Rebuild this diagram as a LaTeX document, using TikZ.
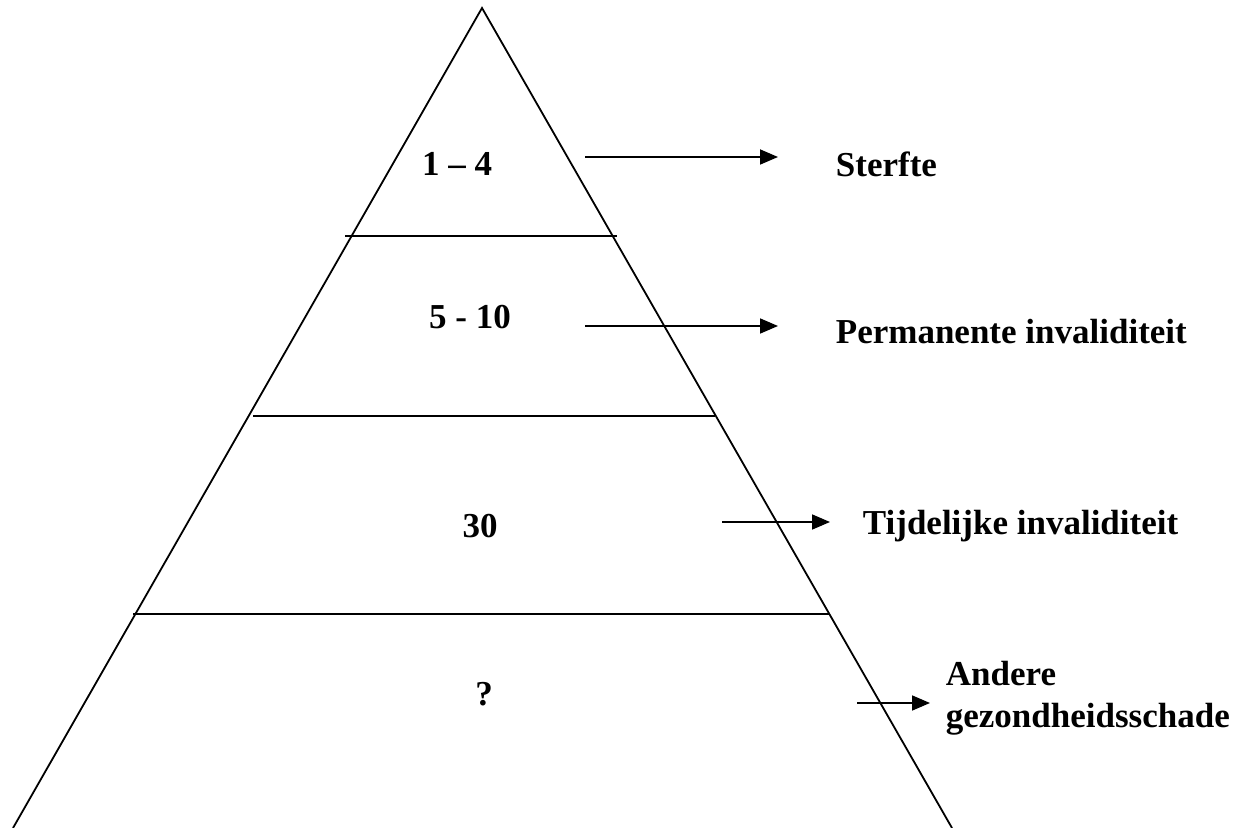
\documentclass[tikz,border=0pt]{standalone}
\usepackage{fontspec}
\setmainfont{Liberation Serif}
\usetikzlibrary{arrows.meta}

\tikzset{
        lbl/.style = {font=\fontsize{17.5}{21}\selectfont\bfseries, inner sep=0pt},
        num/.style = {lbl, anchor=center},
        pijl/.style = {-{Triangle[length=9pt, width=7.5pt]}, line width=0.9pt}
}

\begin{document}
\begin{tikzpicture}[x=0.5pt, y=-0.5pt, line width=0.9pt]
        \useasboundingbox (0,0) rectangle (1242,828);
        % piramide
        \coordinate (top) at (482,8);
        \coordinate (linksonder) at (13,828);
        \coordinate (rechtsonder) at (952,828);
        \draw (linksonder) -- (top) -- (rechtsonder);
        % lagen
        \coordinate (l1a) at (345,236); \coordinate (l1b) at (617,236);
        \coordinate (l2a) at (253,416); \coordinate (l2b) at (715,416);
        \coordinate (l3a) at (133,614); \coordinate (l3b) at (829,614);
        \draw (l1a) -- (l1b);
        \draw (l2a) -- (l2b);
        \draw (l3a) -- (l3b);
        % aantallen
        \node[num] (n1) at (457,164) {1 -- 4};
        \node[num] (n2) at (470,317) {5 - 10};
        \node[num] (n3) at (480,526) {30};
        \node[num] (n4) at (484,694) {?};
        % gevolgen
        \node[lbl, anchor=west] (sterfte) at (835,164) {Sterfte};
        \node[lbl, anchor=west] (perm) at (835,332) {Permanente invaliditeit};
        \node[lbl, anchor=west] (tijd) at (862,526) {Tijdelijke invaliditeit};
        \node[lbl, anchor=west, align=left] (ander) at (945,698) {Andere\\gezondheidsschade};
        % pijlen
        \coordinate (p1a) at (585,157); \coordinate (p1b) at (778,157);
        \coordinate (p2a) at (585,326); \coordinate (p2b) at (778,326);
        \coordinate (p3a) at (722,522); \coordinate (p3b) at (830,522);
        \coordinate (p4a) at (857,703); \coordinate (p4b) at (930,703);
        \draw[pijl] (p1a) -- (p1b);
        \draw[pijl] (p2a) -- (p2b);
        \draw[pijl] (p3a) -- (p3b);
        \draw[pijl] (p4a) -- (p4b);
\end{tikzpicture}
\end{document}
